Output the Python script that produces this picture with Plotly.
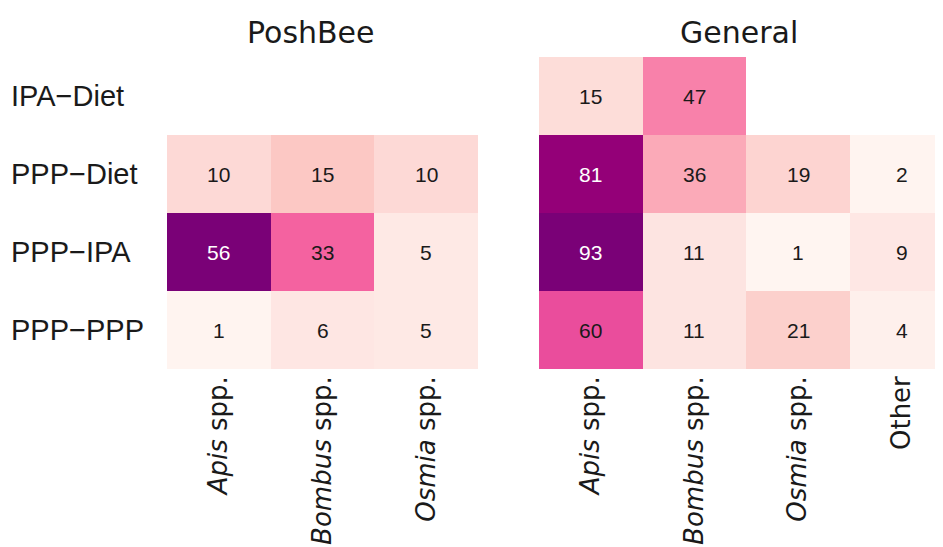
import plotly.graph_objects as go

rows = ["IPA\u2212Diet", "PPP\u2212Diet", "PPP\u2212IPA", "PPP\u2212PPP"]
posh_cols = ["<i>Apis</i> spp.", "<i>Bombus</i> spp.", "<i>Osmia</i> spp."]
gen_cols = ["<i>Apis</i> spp.", "<i>Bombus</i> spp.", "<i>Osmia</i> spp.", "Other"]

posh_vals = [
    [None, None, None],
    [10, 15, 10],
    [56, 33, 5],
    [1, 6, 5],
]
gen_vals = [
    [15, 47, None, None],
    [81, 36, 19, 2],
    [93, 11, 1, 9],
    [60, 11, 21, 4],
]

titles = ["PoshBee", "General"]

rdpu = ["#fff7f3", "#fde0dd", "#fcc5c0", "#fa9fb5", "#f768a1",
        "#dd3497", "#ae017e", "#7a0177"]
cscale = [[i / (len(rdpu) - 1), c] for i, c in enumerate(rdpu)]
cscale.insert(-1, [0.87, "#940078"])

W, H = 943, 547
OFF = 8  # page body margin
fig = go.Figure()


def add_panel(vals, cols, xa, ya):
    flat = [v for r in vals for v in r if v is not None]
    zmax = max(flat)
    fig.add_trace(go.Heatmap(
        z=vals, x=list(range(len(cols))), y=list(range(len(rows))),
        colorscale=cscale, zmin=0, zmax=zmax, showscale=False,
        xaxis=xa, yaxis=ya, hoverongaps=False,
    ))
    for i, r in enumerate(vals):
        for j, v in enumerate(r):
            if v is None:
                continue
            fig.add_annotation(
                x=j, y=i, xref=xa, yref=ya, text=str(v), showarrow=False,
                font=dict(family="Liberation Sans, Arial", size=21,
                          color="white" if v / zmax > 0.8 else "#1a1a1a"),
            )


add_panel(posh_vals, posh_cols, "x", "y")
add_panel(gen_vals, gen_cols, "x2", "y2")

y_dom = [1 - (369 - OFF) / H, 1 - (57 - OFF) / H]
tickfont = dict(family="DejaVu Sans", size=26, color="#1a1a1a")
common_x = dict(showgrid=False, zeroline=False, showline=False, ticks="",
                tickangle=-90, tickfont=tickfont, ticklabelstandoff=1)
common_y = dict(showgrid=False, zeroline=False, showline=False, ticks="",
                showticklabels=False, range=[3.5, -0.5])

fig.update_layout(
    width=W, height=H,
    margin=dict(l=0, r=0, t=0, b=0),
    paper_bgcolor="white", plot_bgcolor="white",
    xaxis=dict(domain=[(167 - OFF) / W, (478 - OFF) / W], range=[-0.5, 2.5],
               tickvals=list(range(len(posh_cols))), ticktext=posh_cols,
               anchor="y", **common_x),
    yaxis=dict(domain=y_dom, anchor="x", **common_y),
    xaxis2=dict(domain=[(539 - OFF) / W, 1.0],
                range=[-0.5, -0.5 + (W - 539 + OFF) / 103.6],
                tickvals=list(range(len(gen_cols))), ticktext=gen_cols,
                anchor="y2", **common_x),
    yaxis2=dict(domain=y_dom, anchor="x2", **common_y),
)

for i, r in enumerate(rows):
    fig.add_annotation(x=(9 - OFF) / W, y=i, xref="paper", yref="y", text=r,
                       showarrow=False, xanchor="left",
                       font=dict(family="Liberation Sans, Arial", size=29,
                                 color="#1a1a1a"))

for t, xc in zip(titles, [311, 739]):
    fig.add_annotation(x=(xc - OFF) / W, y=1 - (32.5 - OFF) / H, xref="paper",
                       yref="paper", text=t, showarrow=False, xanchor="center",
                       yanchor="middle",
                       font=dict(family="DejaVu Sans", size=30,
                                 color="#1a1a1a"))

fig.write_html("out.html")
